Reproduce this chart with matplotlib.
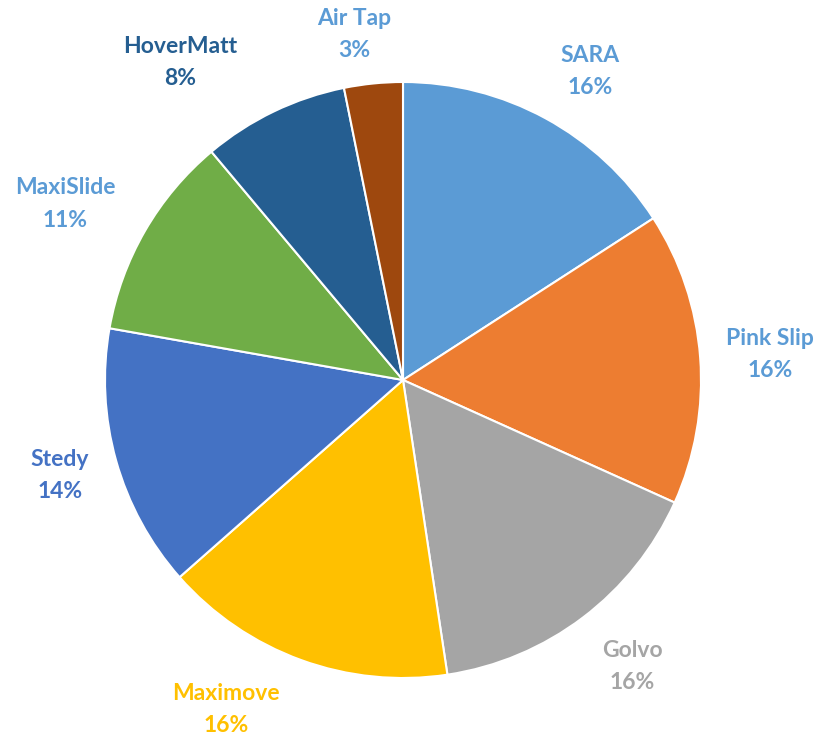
import numpy as np
import matplotlib
matplotlib.use("Agg")
import matplotlib.pyplot as plt

# counts per device (percentages shown are rounded shares)
devices = ["SARA", "Pink Slip", "Golvo", "Maximove", "Stedy", "MaxiSlide", "HoverMatt", "Air Tap"]
counts = [10, 10, 10, 10, 9, 7, 5, 2]

slice_colors = ["#5B9BD5", "#ED7D31", "#A5A5A5", "#FFC000", "#4472C4", "#70AD47", "#255E91", "#9E480E"]
label_colors = ["#5B9BD5", "#5B9BD5", "#A5A5A5", "#FFC000", "#4472C4", "#5B9BD5", "#255E91", "#5B9BD5"]
# label placement: (radius, angle in degrees) relative to pie centre
label_polar = [(1.21, 58.8), (1.235, 3.9), (1.232, -51.4), (1.254, -118.3),
               (1.195, 195.6), (1.279, 152.5), (1.301, 125.1), (1.17, 98.1)]

W, H = 819, 740
cx, cy, R = 403, 380, 298

fig = plt.figure(figsize=(W / 100, H / 100), dpi=100)
ax = fig.add_axes([0, 0, 1, 1])
wedges, _ = ax.pie(counts, colors=slice_colors, startangle=90, counterclock=False,
                   wedgeprops=dict(edgecolor="white", linewidth=1.5))

total = sum(counts)
for name, c, col, (r, ang) in zip(devices, counts, label_colors, label_polar):
    pct = round(100 * c / total)
    x = r * np.cos(np.radians(ang))
    y = r * np.sin(np.radians(ang))
    ax.text(x, y, f"{name}\n{pct}%", ha="center", va="center", color=col,
            fontsize=16.5, fontweight="bold", family=["Lato", "DejaVu Sans"], linespacing=1.65)

ax.set_xlim(-cx / R, (W - cx) / R)
ax.set_ylim(-(H - cy) / R, cy / R)
ax.set_aspect("auto")
ax.axis("off")

plt.savefig("out.png", dpi=100)
